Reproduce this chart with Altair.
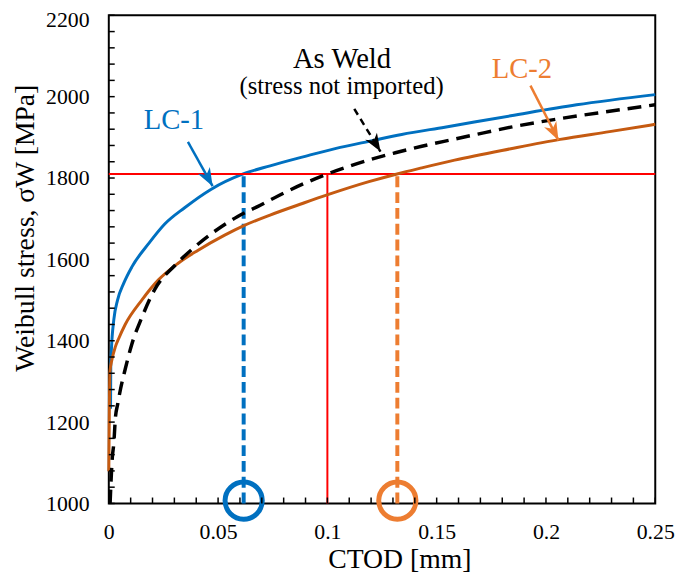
import math
import altair as alt
import pandas as pd

# ---------------- data ----------------
lc1_x = [0.0008, 0.0009, 0.0012, 0.0023, 0.0040, 0.0068, 0.0105, 0.0181, 0.0256,
         0.0347, 0.0467, 0.0615, 0.0738, 0.0889, 0.1040, 0.1190, 0.1340, 0.1537,
         0.1839, 0.2140, 0.2500]
lc1_y = [1233, 1338, 1379, 1452, 1500, 1541, 1581, 1638, 1687,
         1727, 1772, 1810, 1830, 1852, 1873, 1890, 1907, 1925,
         1953, 1980, 2005]

lc2_x = [0.0000, 0.0002, 0.0005, 0.0015, 0.0030, 0.0045, 0.0075, 0.0151, 0.0226,
         0.0316, 0.0407, 0.0528, 0.0618, 0.0738, 0.0889, 0.1002, 0.1190, 0.1319,
         0.1432, 0.1582, 0.1839, 0.2065, 0.2291, 0.2500]
lc2_y = [1079, 1200, 1322, 1355, 1385, 1405, 1440, 1500, 1549,
         1590, 1622, 1659, 1683, 1709, 1738, 1759, 1791, 1810,
         1825, 1844, 1872, 1895, 1914, 1932]

aw_x = [0.0006, 0.0011, 0.0016, 0.0023, 0.0030, 0.0041, 0.0054, 0.0075, 0.0105,
        0.0151, 0.0211, 0.0302, 0.0392, 0.0482, 0.0588, 0.0678, 0.0800, 0.0900,
        0.1000, 0.1100, 0.1200, 0.1311, 0.1432, 0.1567, 0.1688, 0.1839, 0.2065,
        0.2291, 0.2500]
aw_y = [1000, 1063, 1112, 1148, 1209, 1245, 1282, 1330, 1391,
        1457, 1527, 1585, 1630, 1668, 1705, 1729, 1763, 1788,
        1810, 1829, 1846, 1862, 1878, 1894, 1908, 1925, 1946,
        1964, 1980]

critical_stress = 1810
critical_ctod = [0.0617, 0.1000, 0.1320]   # LC-1, As Weld, LC-2
circle_y = 1007

x_label_values = [0, 0.05, 0.1, 0.15, 0.2, 0.25]
y_label_values = [1000, 1200, 1400, 1600, 1800, 2000, 2200]
x_minor_ticks = [i / 100 for i in range(0, 26)]
y_minor_ticks = list(range(1000, 2201, 40))

labels_text = ["LC-1", "As Weld", "(stress not imported)", "LC-2"]
labels_x = [0.0298, 0.1067, 0.1065, 0.1890]
labels_y = [1921, 2071, 2006, 2045]
labels_size = [29, 29, 25, 29]
labels_color = ["#0070C0", "black", "black", "#ED7D31"]

arrow_x0 = [0.0362, 0.1123, 0.1929]
arrow_y0 = [1889, 1970, 2027]
arrow_x1 = [0.0475, 0.1243, 0.2057]
arrow_y1 = [1780, 1865, 1893]
arrow_color = ["#0070C0", "black", "#ED7D31"]

# ---------------- layout / style ----------------
W, H = 553, 494
FONT = "Liberation Serif, Times New Roman, DejaVu Serif, serif"
BLUE, ORANGE_LINE, ORANGE, RED = "#0070C0", "#C55A11", "#ED7D31", "#FF0000"

xs = alt.Scale(domain=[0, 0.25], nice=False, zero=False)
ys = alt.Scale(domain=[1000, 2200], nice=False, zero=False)

x_axis = alt.Axis(values=x_label_values, format="~g", grid=False, domain=False,
                  ticks=False, labelPadding=18, labelFont=FONT, labelFontSize=22,
                  labelColor="black", labelFlush=False, labelOverlap=False,
                  title="CTOD [mm]", titleFont=FONT, titleFontSize=28,
                  titleFontWeight="normal", titleColor="black", titleX=294,
                  titleY=65, titleAlign="center", titleBaseline="alphabetic")
y_axis = alt.Axis(values=y_label_values, format="d", grid=False, domain=False,
                  ticks=False, labelPadding=20, labelFont=FONT, labelFontSize=22,
                  labelColor="black", labelFlush=False, labelOverlap=False,
                  labelOffset={"condition": {"test": "datum.value === 2200", "value": 4},
                               "value": 0},
                  title="Weibull stress, σW [MPa]", titleFont=FONT, titleFontSize=28,
                  titleFontWeight="normal", titleColor="black", titleAngle=270,
                  titleX=-76, titleY=215, titleAlign="center",
                  titleBaseline="alphabetic")


def X(field):
    return alt.X(field, type="quantitative", scale=xs, axis=x_axis)


def Y(field):
    return alt.Y(field, type="quantitative", scale=ys, axis=y_axis)


df_lc1 = pd.DataFrame({"x": lc1_x, "y": lc1_y})
df_lc2 = pd.DataFrame({"x": lc2_x, "y": lc2_y})
df_aw = pd.DataFrame({"x": aw_x, "y": aw_y})

lc1 = alt.Chart(df_lc1).mark_line(color=BLUE, strokeWidth=3, interpolate="monotone").encode(
    x=X("x"), y=Y("y"))
lc2 = alt.Chart(df_lc2).mark_line(color=ORANGE_LINE, strokeWidth=3, interpolate="monotone").encode(
    x=X("x"), y=Y("y"))
aw = alt.Chart(df_aw).mark_line(color="black", strokeWidth=3.5, strokeDash=[14, 8],
                                interpolate="monotone").encode(x=X("x"), y=Y("y"))

# red reference lines
df_h = pd.DataFrame({"x": [0], "x2": [0.25], "y": [critical_stress]})
red_h = alt.Chart(df_h).mark_rule(color=RED, strokeWidth=2).encode(
    x=X("x"), x2="x2:Q", y=Y("y"))
df_v = pd.DataFrame({"x": [critical_ctod[1]], "y": [1000], "y2": [critical_stress]})
red_v = alt.Chart(df_v).mark_rule(color=RED, strokeWidth=2).encode(
    x=X("x"), y=Y("y"), y2="y2:Q")

# dashed drop lines
df_d = pd.DataFrame({"x": [critical_ctod[0], critical_ctod[2]], "y": [1000, 1000],
                     "y2": [critical_stress, critical_stress], "c": [BLUE, ORANGE]})
drops = alt.Chart(df_d).mark_rule(strokeWidth=4, strokeDash=[11, 5]).encode(
    x=X("x"), y=Y("y"), y2="y2:Q", color=alt.Color("c:N", scale=None))

df_c = pd.DataFrame({"x": [critical_ctod[0], critical_ctod[2]], "y": [circle_y, circle_y],
                     "c": [BLUE, ORANGE]})
circles = alt.Chart(df_c).mark_point(shape="circle", filled=False, size=1420,
                                     strokeWidth=5, opacity=1).encode(
    x=X("x"), y=Y("y"), stroke=alt.Stroke("c:N", scale=None))

# inward tick marks
df_xt = pd.DataFrame({"x": x_minor_ticks})
xticks = alt.Chart(df_xt).mark_rule(color="black", strokeWidth=1.5).encode(
    x=X("x"), y=alt.value(H), y2=alt.value(H - 6))
df_yt = pd.DataFrame({"y": y_minor_ticks})
yticks = alt.Chart(df_yt).mark_rule(color="black", strokeWidth=1.5).encode(
    y=Y("y"), x=alt.value(0), x2=alt.value(6))

# arrows
sx, sy = W / 0.25, H / 1200.0
angles = []
for a, b, c, d in zip(arrow_x0, arrow_y0, arrow_x1, arrow_y1):
    dx = (c - a) * sx
    dy = -(d - b) * sy
    angles.append(math.degrees(math.atan2(dx, -dy)) % 360)
df_a = pd.DataFrame({"x": arrow_x0, "y": arrow_y0, "x1": arrow_x1, "y1": arrow_y1,
                     "c": arrow_color, "dash": ["solid", "dashed", "solid"]})
arrow_solid = alt.Chart(df_a[df_a.dash == "solid"]).mark_rule(strokeWidth=2.5).encode(
    x=X("x"), y=Y("y"), x2="x1:Q", y2="y1:Q", color=alt.Color("c:N", scale=None))
arrow_dashed = alt.Chart(df_a[df_a.dash == "dashed"]).mark_rule(
    strokeWidth=2.5, strokeDash=[7, 5]).encode(
    x=X("x"), y=Y("y"), x2="x1:Q", y2="y1:Q", color=alt.Color("c:N", scale=None))
df_hd = pd.DataFrame({"x": arrow_x1, "y": arrow_y1, "c": arrow_color, "ang": angles})
heads = alt.Chart(df_hd).mark_point(shape="M0,0L0.8,2.1L0,1.5L-0.8,2.1Z", filled=True,
                                    size=300, opacity=1).encode(
    x=X("x"), y=Y("y"), fill=alt.Fill("c:N", scale=None),
    angle=alt.Angle("ang:Q", scale=None))

# annotations
df_t = pd.DataFrame({"x": labels_x, "y": labels_y, "t": labels_text,
                     "s": labels_size, "c": labels_color})
texts = alt.Chart(df_t).mark_text(font=FONT, align="center", baseline="alphabetic").encode(
    x=X("x"), y=Y("y"), text="t:N", size=alt.Size("s:Q", scale=None),
    color=alt.Color("c:N", scale=None))

chart = alt.layer(
    lc1, red_h, red_v, drops, lc2, aw, circles, xticks, yticks,
    arrow_solid, arrow_dashed, heads, texts
).properties(
    width=W, height=H,
    autosize=alt.AutoSizeParams(type="none"),
    padding={"left": 102, "top": 4, "right": 22, "bottom": 68},
).configure_view(stroke="black", strokeWidth=2)

chart.save("out.html", embed_options={"renderer": "svg", "actions": False})
